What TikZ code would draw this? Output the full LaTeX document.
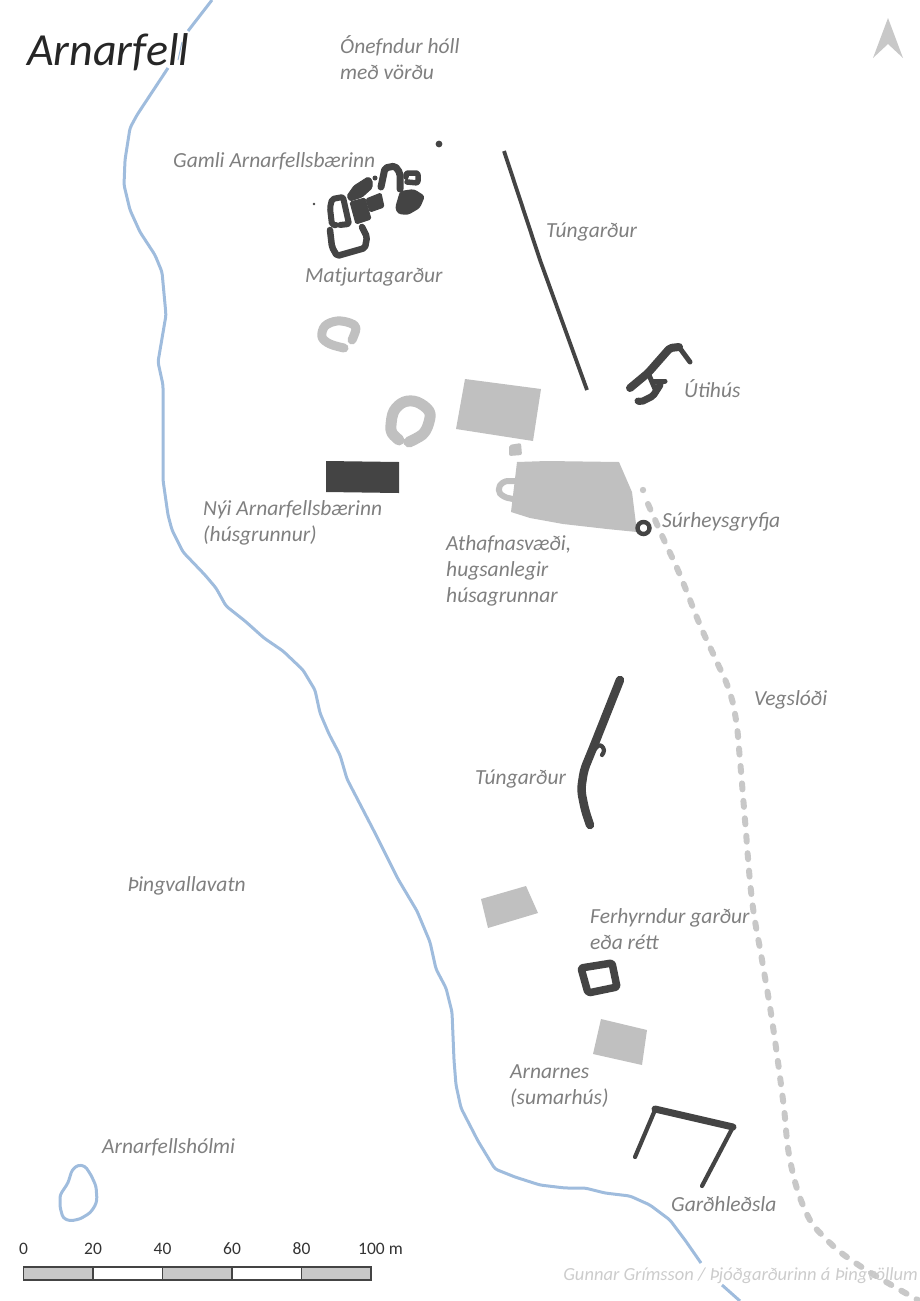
\documentclass[tikz,border=0pt]{standalone}
\usepackage{fontspec}
\setmainfont{Carlito}
\definecolor{dk}{HTML}{444444}
\definecolor{lg}{HTML}{C0C0C0}
\definecolor{rv}{HTML}{9FBCDD}
\definecolor{lb}{HTML}{7F7F7F}
\definecolor{rd}{HTML}{C8C8C8}
\tikzset{
  river/.style={draw=rv,line width=3pt,rounded corners=3pt,line join=round},
  roadline/.style={draw=rd,line width=6pt,line cap=round,dash pattern=on 6pt off 11.5pt},
  darkwall/.style={draw=dk,line width=#1,line cap=round,line join=round,rounded corners=2pt},
  graywall/.style={draw=lg,line width=#1,line cap=round,line join=round},
  darkfill/.style={fill=dk,draw=dk,line width=1pt,line join=round,rounded corners=1.5pt},
  grayfill/.style={fill=lg},
  lbl/.style={font=\itshape\fontsize{21.5}{26}\selectfont,text=lb,inner sep=0pt,align=left,anchor=west},
  scl/.style={font=\fontsize{17.5}{17.5}\selectfont,text=black!80,inner sep=0pt,anchor=base},
  seg/.style={draw=dk,line width=1.6pt}
}
\begin{document}
\begin{tikzpicture}[x=1pt,y=-1pt]
\useasboundingbox (0,0) rectangle (920,1301);
% river
\draw[river] (212,0) -- (188,31);
\draw[draw=rv,line width=1pt] (182,42) -- (178,60);
\draw[river] (168,68) -- (137,115) -- (130,128) -- (125,160) -- (124,185) -- (130,210) -- (140,232) -- (155,255) -- (162,272) -- (166,315) -- (158,362) -- (163,385) -- (163,480) -- (168,515) -- (172,530) -- (183,552) -- (205,575) -- (216,588) -- (226,606) -- (245,621) -- (264,638) -- (283,651) -- (303,670) -- (315,690) -- (320,713) -- (329,734) -- (340,755) -- (347,779) -- (375,833) -- (398,879) -- (417,911) -- (430,942) -- (436,969) -- (446,988) -- (452,1012) -- (454,1060) -- (456,1085) -- (461,1108) -- (478,1141) -- (495,1169) -- (515,1177) -- (540,1185) -- (565,1188) -- (585,1188) -- (605,1193) -- (630,1196) -- (650,1205) -- (670,1220) -- (685,1240) -- (701,1263);
\draw[river] (722,1285) -- (740,1301);
\draw[river] (78,1165) -- (85,1166) -- (91,1175) -- (96,1186) -- (97,1200) -- (95,1206) -- (90,1213) -- (80,1219) -- (70,1221) -- (63,1218) -- (60,1207) -- (60,1195) -- (64,1189) -- (68,1183) -- (72,1170) -- cycle;
% road
\fill[rd] (643,490) circle (3.2pt);
\draw[roadline] plot[smooth,tension=.7] coordinates {(648,504) (664,540) (680,575) (700,625) (716,660) (729,690) (736,720) (740,760) (745,820) (752,900) (762,960) (772,1020) (783,1100) (790,1160) (805,1210) (825,1238) (860,1266) (925,1304)};
% Gamli complex
\fill[dk] (439,144) circle (3.4pt);
\fill[dk] (314,204) circle (1.4pt);
\fill[dk] (375,178) circle (2.5pt);
\filldraw[darkfill] (347,196) -- (354,186) -- (368,177) -- (372,180) -- (372,188) -- (362,197) -- (350,201) -- cycle;
\filldraw[darkfill] (350,202) -- (365,198) -- (371,219) -- (356,224) -- cycle;
\filldraw[darkfill] (366,199) -- (381,193) -- (384,207) -- (370,212) -- cycle;
\fill[dk,rounded corners=3pt] (395,208) -- (400,191) -- (414,189) -- (425,196) -- (420,208) -- (408,215) -- (398,214) -- cycle;
\draw[darkwall=7pt] (381,187) -- (385,168) -- (395,166) -- (400,173) -- (400,189);
\draw[darkwall=5.5pt] (407,182) -- (418,183) -- (418,173) -- (406,173) -- (406,177);
\draw[darkwall=6pt] (340,225) -- (349,224) -- (343,197) -- (332,199) -- (330,208) -- (332,225) -- (336,225);
\draw[darkwall=6.5pt] (330,230) -- (332,247) -- (337,256) -- (365,248) -- (367,237) -- (362,227);
% gray ruins
\draw[graywall=9pt] plot[smooth,tension=.6] coordinates {(344,348) (330,344) (322,337) (325,326) (337,321) (350,323) (356,328) (352,340)};
\draw[graywall=11pt] plot[smooth,tension=.6] coordinates {(399,440) (392,433) (391,425) (394,411) (404,402) (417,402) (429,411) (429,422) (423,434) (409,442)};
\fill[dk] (326,461) -- (399,462) -- (399,493) -- (326,492) -- cycle;
\fill[grayfill] (465,379) -- (541,389) -- (533,441) -- (456,429) -- cycle;
\fill[grayfill,rounded corners=2pt] (509,445) -- (521,443) -- (522,455) -- (509,456) -- cycle;
\fill[grayfill] (517,462) -- (547,461) -- (619,462) -- (632,492) -- (637,532) -- (607,529) -- (563,524) -- (530,518) -- (511,512) -- cycle;
\draw[graywall=6pt,rounded corners=5pt] (515,481) -- (503,481) -- (497,490) -- (503,497) -- (513,499);
\draw[dk,line width=4.4pt] (643.5,528) circle (6pt);
% straight wall
\draw[dk,line width=3.8pt] (504,151) -- (540,260) -- (587,390);
% Útihús
\draw[darkwall=8pt] (630,388) -- (648,373) -- (670,348) -- (679,347);
\draw[darkwall=5pt] (679,347) -- (690,362);
\draw[darkwall=7pt] (638,401) -- (641,402) -- (653,396) -- (660,385);
\draw[darkwall=5pt] (649,375) -- (655,389);
\draw[darkwall=5pt] (652,381) -- (665,381);
% lower Túngarður
\draw[darkwall=8.5pt,rounded corners=6pt] (620,680) -- (593,748) -- (584,770) -- (581,790) -- (585,810) -- (590,825);
\draw[darkwall=4.2pt,rounded corners=3pt] (594,750) -- (600,744) -- (605,750) -- (602,755);
% others
\fill[grayfill] (481,899) -- (526,886) -- (538,913) -- (488,928) -- cycle;
\draw[darkwall=7.5pt] (581,968) -- (612,963) -- (617,987) -- (588,993) -- cycle;
\fill[grayfill] (601,1019) -- (647,1030) -- (642,1065) -- (593,1054) -- cycle;
\draw[darkwall=4.2pt] (635,1157) -- (655,1110);
\draw[darkwall=7pt] (655,1109) -- (733,1127);
\draw[darkwall=4.2pt] (733,1127) -- (702,1186);
% north arrow
\fill[rd] (888,18) -- (903,58) -- (888,44) -- (873,58) -- cycle;
% scale bar
\filldraw[seg,fill=rd] (23.5,1267) rectangle (93,1280);
\filldraw[seg,fill=white] (93,1267) rectangle (162.5,1280);
\filldraw[seg,fill=rd] (162.5,1267) rectangle (232,1280);
\filldraw[seg,fill=white] (232,1267) rectangle (301.5,1280);
\filldraw[seg,fill=rd] (301.5,1267) rectangle (371,1280);
\node[scl] (s0) at (23.5,1254) {0};
\node[scl] (s20) at (93,1254) {20};
\node[scl] (s40) at (162.5,1254) {40};
\node[scl] (s60) at (232,1254) {60};
\node[scl] (s80) at (301.5,1254) {80};
\node[scl,anchor=base west] (s100) at (358,1254) {100 m};
% labels
\node[font=\itshape\fontsize{46}{46}\selectfont,text=black!85,inner sep=0pt,anchor=base west] (title) at (27,65) {Arnarfell};
\node[lbl] (a) at (340,57.5) {Ónefndur hóll\\með vörðu};
\node[lbl] (b) at (173,161.5) {Gamli Arnarfellsbærinn};
\node[lbl] (c) at (546,232.5) {Túngarður};
\node[lbl] (d) at (305,276.5) {Matjurtagarður};
\node[lbl] (e) at (684,388.5) {Útihús};
\node[lbl] (f) at (203,522.5) {Nýi Arnarfellsbærinn\\(húsgrunnur)};
\node[lbl] (g) at (662,522) {Súrheysgryfja};
\node[lbl] (h) at (446,570.5) {Athafnasvæði,\\hugsanlegir\\húsagrunnar};
\node[lbl] (i) at (754,699.5) {Vegslóði};
\node[lbl] (j) at (475,778.5) {Túngarður};
\node[lbl] (k) at (127,885.5) {Þingvallavatn};
\node[lbl] (l) at (590,929) {Ferhyrndur garður\\eða rétt};
\node[lbl] (m) at (510,1086.5) {Arnarnes\\(sumarhús)};
\node[lbl] (n) at (102,1147.5) {Arnarfellshólmi};
\node[lbl] (o) at (671,1204) {Garðhleðsla};
\node[font=\itshape\fontsize{18.5}{18.5}\selectfont,text=black!20,inner sep=0pt,anchor=base east] (p) at (918,1280) {Gunnar Grímsson / Þjóðgarðurinn á Þingvöllum};
\end{tikzpicture}
\end{document}
